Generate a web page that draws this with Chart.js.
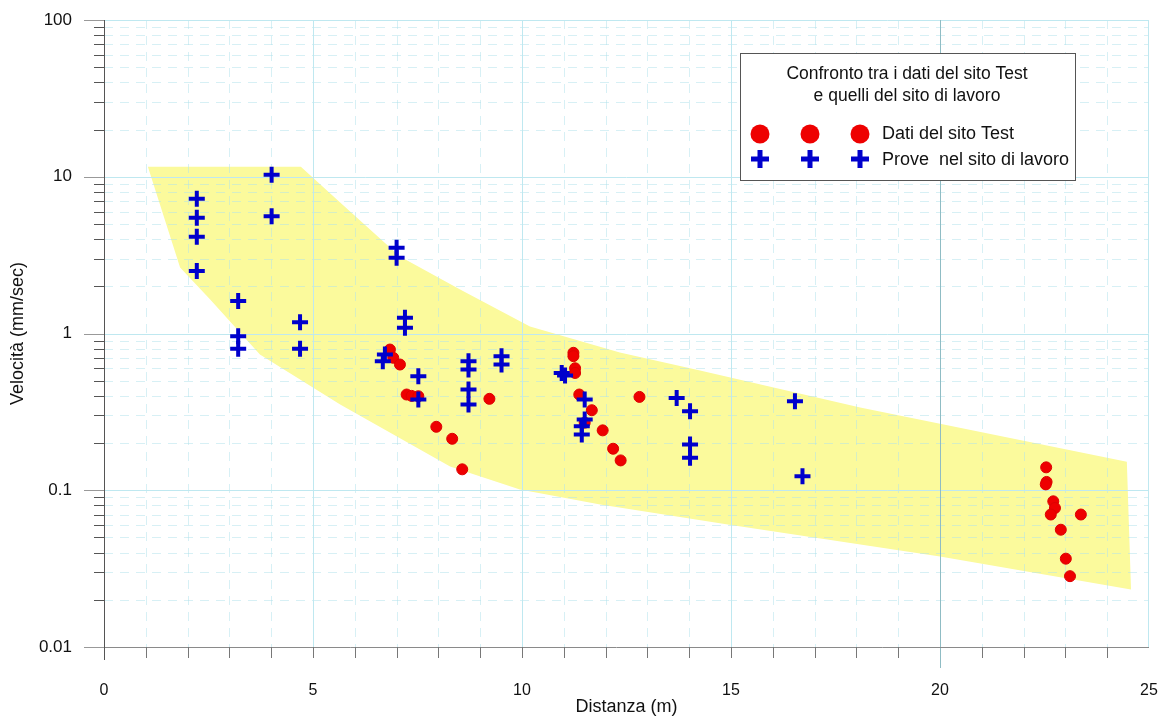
<!DOCTYPE html>
<html>
<head>
<meta charset="utf-8">
<script src="https://cdn.jsdelivr.net/npm/chart.js@4/dist/chart.umd.min.js"></script>
<style>
  html,body{margin:0;padding:0;background:#fff;}
  #wrap{position:relative;width:1164px;height:718px;}
</style>
</head>
<body>
<div id="wrap"><canvas id="chart"></canvas></div>
<script>
(function(){
  "use strict";
  // assi
  const X_MIN=0, X_MAX=25, X_STEP=5;
  const Y_TICKS=[0.01,0.1,1,10,100];
  const X_MINOR=[1,2,3,4,6,7,8,9,11,12,13,14,16,17,18,19,21,22,23,24];
  const X_MAJOR=[5,10,15];
  const X_DARK=[20];
  const Y_MINOR_MULT=[2,3,4,5,6,7,8,9];
  const Y_DECADES=[0.01,0.1,1,10];

  // fascia gialla (contorno)
  const BAND_X=[1.05,4.71,5.65,7.08,8.52,10.19,12.34,14.26,18.09,24.47,24.57,20,15,11.87,9.95,8.28,5.65,3.73,2.54,1.82];
  const BAND_Y=[11.6,11.6,6.85,3.1,1.91,1.11,0.757,0.58,0.337,0.152,0.0233,0.0378,0.060,0.081,0.101,0.142,0.352,0.734,1.65,2.64];

  // Dati del sito Test
  const RED_X=[6.84,6.92,7.08,7.24,7.36,7.52,7.95,8.33,8.57,9.22,11.23,11.23,11.27,11.27,11.37,11.67,11.5,11.93,12.18,12.36,12.81,22.54,22.55,22.53,22.71,22.75,22.65,23.37,22.89,23.01,23.11];
  const RED_Y=[0.79,0.70,0.634,0.408,0.40,0.398,0.254,0.213,0.136,0.383,0.753,0.717,0.60,0.56,0.408,0.324,0.27,0.241,0.184,0.155,0.394,0.140,0.113,0.109,0.085,0.077,0.070,0.070,0.056,0.0366,0.0283];

  // Prove nel sito di lavoro
  const BLUE_X=[2.22,2.22,2.22,2.22,4.01,4.01,3.21,3.21,3.21,4.69,4.69,7.0,7.0,7.2,7.2,6.72,6.67,7.52,7.52,8.72,8.72,8.72,8.72,9.51,9.51,10.95,11.03,11.5,11.5,11.43,11.43,13.7,14.02,14.02,14.02,16.53,16.71];
  const BLUE_Y=[7.23,5.47,4.14,2.5,10.3,5.6,1.61,0.96,0.80,1.18,0.80,3.52,3.04,1.26,1.09,0.735,0.666,0.534,0.379,0.666,0.589,0.44,0.352,0.717,0.634,0.56,0.54,0.379,0.283,0.256,0.227,0.388,0.319,0.196,0.161,0.37,0.123];

  const FONT="'Liberation Sans', Arial, sans-serif";
  const pts=(xs,ys)=>xs.map((x,i)=>({x:x,y:ys[i]}));

  // griglia sopra la fascia gialla, sotto i punti
  const gridPlugin={
    id:"grid",
    afterDatasetDraw(chart,args){
      if(args.index!==0) return;
      const {ctx,chartArea:a,scales:{x,y}}=chart;
      ctx.save();
      // minori tratteggiate
      ctx.strokeStyle="rgba(175,225,235,0.5)"; ctx.lineWidth=1; ctx.setLineDash([9,7]);
      X_MINOR.forEach(v=>{const p=Math.round(x.getPixelForValue(v))+0.5;ctx.beginPath();ctx.moveTo(p,a.top);ctx.lineTo(p,a.bottom);ctx.stroke();});
      Y_DECADES.forEach(d=>Y_MINOR_MULT.forEach(m=>{
        const p=Math.round(y.getPixelForValue(d*m))+0.5;ctx.beginPath();ctx.moveTo(a.left,p);ctx.lineTo(a.right,p);ctx.stroke();
      }));
      ctx.setLineDash([]);
      // principali
      ctx.strokeStyle="#bfe8f0";
      X_MAJOR.forEach(v=>{const p=Math.round(x.getPixelForValue(v))+0.5;ctx.beginPath();ctx.moveTo(p,a.top);ctx.lineTo(p,a.bottom);ctx.stroke();});
      [10,1,0.1].forEach(v=>{const p=Math.round(y.getPixelForValue(v))+0.5;ctx.beginPath();ctx.moveTo(a.left,p);ctx.lineTo(a.right,p);ctx.stroke();});
      ctx.beginPath();ctx.moveTo(a.left,a.top+0.5);ctx.lineTo(a.right,a.top+0.5);ctx.stroke();
      ctx.beginPath();ctx.moveTo(a.right-0.5,a.top);ctx.lineTo(a.right-0.5,a.bottom);ctx.stroke();
      ctx.strokeStyle="#8fbcc4";
      X_DARK.forEach(v=>{const p=Math.round(x.getPixelForValue(v))+0.5;ctx.beginPath();ctx.moveTo(p,a.top);ctx.lineTo(p,a.bottom+21);ctx.stroke();});
      ctx.restore();
    },
    afterDraw(chart){
      const {ctx,chartArea:a,scales:{x,y}}=chart;
      ctx.save();
      ctx.lineWidth=1;
      // asse x e tacche
      ctx.strokeStyle="#8a8a8a";
      ctx.beginPath();ctx.moveTo(a.left-20,a.bottom+0.5);ctx.lineTo(a.right,a.bottom+0.5);ctx.stroke();
      ctx.strokeStyle="#777";
      X_MINOR.concat(X_MAJOR).forEach(v=>{const p=Math.round(x.getPixelForValue(v))+0.5;ctx.beginPath();ctx.moveTo(p,a.bottom);ctx.lineTo(p,a.bottom+11);ctx.stroke();});
      // asse y e tacche
      ctx.strokeStyle="#555";
      ctx.beginPath();ctx.moveTo(a.left+0.5,a.top);ctx.lineTo(a.left+0.5,a.bottom+13);ctx.stroke();
      Y_DECADES.forEach(d=>Y_MINOR_MULT.forEach(m=>{
        const p=Math.round(y.getPixelForValue(d*m))+0.5;ctx.beginPath();ctx.moveTo(a.left-10,p);ctx.lineTo(a.left,p);ctx.stroke();
      }));
      ctx.strokeStyle="#999";
      Y_TICKS.forEach(v=>{const p=Math.round(y.getPixelForValue(v))+0.5;ctx.beginPath();ctx.moveTo(a.left-20,p);ctx.lineTo(a.left,p);ctx.stroke();});
      ctx.restore();
    }
  };

  // legenda a riquadro
  const legendPlugin={
    id:"boxLegend",
    afterDraw(chart){
      const ctx=chart.ctx;
      ctx.save();
      ctx.fillStyle="#fff";ctx.fillRect(740,53,335,127);
      ctx.strokeStyle="#555";ctx.lineWidth=1;ctx.strokeRect(740.5,53.5,335,127);
      ctx.fillStyle="#111";ctx.textAlign="center";ctx.textBaseline="middle";
      ctx.font="17.5px "+FONT;
      ctx.fillText("Confronto tra i dati del sito Test",907,74);
      ctx.fillText("e quelli del sito di lavoro",907,96);
      [760,810,860].forEach(cx=>{
        ctx.fillStyle="#ee0000";ctx.beginPath();ctx.arc(cx,134,9.5,0,Math.PI*2);ctx.fill();
        ctx.strokeStyle="#0000cc";ctx.lineWidth=5;
        ctx.beginPath();ctx.moveTo(cx-9,159);ctx.lineTo(cx+9,159);ctx.moveTo(cx,150);ctx.lineTo(cx,168);ctx.stroke();
      });
      ctx.fillStyle="#111";ctx.textAlign="left";ctx.font="18px "+FONT;
      ctx.fillText("Dati del sito Test",882,134);
      ctx.fillText("Prove  nel sito di lavoro",882,160);
      ctx.restore();
    }
  };

  new Chart(document.getElementById("chart"),{
    type:"scatter",
    data:{datasets:[
      {label:"fascia",type:"line",data:pts(BAND_X,BAND_Y),showLine:true,fill:"shape",tension:0,
       borderWidth:0,borderColor:"rgba(0,0,0,0)",backgroundColor:"#fbfa9c",pointRadius:0,order:2},
      {label:"Dati del sito Test",data:pts(RED_X,RED_Y),pointStyle:"circle",pointRadius:5.5,
       backgroundColor:"#ee0000",borderColor:"#dd0000",borderWidth:1,order:1},
      {label:"Prove nel sito di lavoro",data:pts(BLUE_X,BLUE_Y),pointStyle:"cross",pointRadius:8,
       borderColor:"#0000cc",backgroundColor:"#0000cc",borderWidth:4,order:0}
    ]},
    options:{
      responsive:true,maintainAspectRatio:false,animation:false,
      layout:{padding:{top:20,right:15,left:0,bottom:0}},
      plugins:{legend:{display:false},tooltip:{enabled:false}},
      scales:{
        x:{type:"linear",min:X_MIN,max:X_MAX,
           grid:{display:false,drawTicks:false},border:{display:false},
           ticks:{stepSize:X_STEP,padding:34,color:"#111",font:{family:FONT,size:16}},
           title:{display:true,text:"Distanza (m)",color:"#111",font:{family:FONT,size:18},padding:{top:0,bottom:0}},
           afterFit:s=>{s.height=71;s.paddingLeft=0;s.paddingRight=0;}},
        y:{type:"logarithmic",min:0.01,max:100,
           grid:{display:false,drawTicks:false},border:{display:false},
           afterBuildTicks:s=>{s.ticks=Y_TICKS.map(v=>({value:v}));},
           ticks:{padding:32,color:"#111",font:{family:FONT,size:17},callback:v=>String(v)},
           title:{display:true,text:"Velocità (mm/sec)",color:"#111",font:{family:FONT,size:18},padding:{top:7,bottom:0}},
           afterFit:s=>{s.width=104;s.paddingTop=0;s.paddingBottom=0;}}
      }
    },
    plugins:[gridPlugin,legendPlugin]
  });
})();
</script>
</body>
</html>
